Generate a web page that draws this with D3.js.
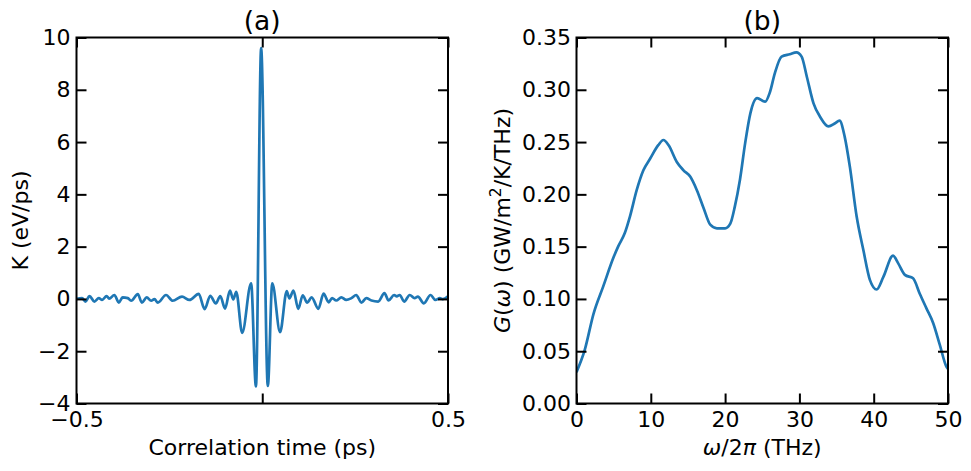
<!DOCTYPE html>
<html>
<head>
<meta charset="utf-8">
<script src="https://cdn.jsdelivr.net/npm/d3@7"></script>
<style>
  html, body { margin: 0; padding: 0; background: #fff; }
  svg { display: block; }
  text { font-family: "DejaVu Sans", sans-serif; fill: #000; }
</style>
</head>
<body>
<svg id="chart" width="971" height="471"></svg>
<script>
// ---------- Panel (a): heat-current autocorrelation K(t) ----------
const kTime = [
  -0.500, -0.485, -0.476, -0.465, -0.452, -0.440, -0.431, -0.419, -0.412, -0.398,
  -0.386, -0.376, -0.362, -0.353, -0.335, -0.324, -0.311, -0.299, -0.290, -0.281,
  -0.259, -0.241, -0.216, -0.196, -0.171, -0.155, -0.140, -0.125, -0.113, -0.100,
  -0.087, -0.078, -0.070, -0.054, -0.030, -0.017, -0.003, 0.015, 0.027, 0.048,
  0.066, 0.073, 0.084, 0.097, 0.109, 0.121, 0.133, 0.151, 0.165, 0.179,
  0.188, 0.199, 0.213, 0.226, 0.240, 0.253, 0.267, 0.280, 0.294, 0.312,
  0.329, 0.340, 0.355, 0.362, 0.370, 0.382, 0.397, 0.410, 0.419, 0.435,
  0.453, 0.466, 0.478, 0.486, 0.500
];
const kValue = [
  0.00, 0.03, -0.10, 0.11, -0.10, 0.03, -0.04, 0.11, 0.01, 0.15,
  -0.14, 0.06, 0.03, -0.07, 0.18, -0.14, 0.06, -0.07, -0.01, -0.14,
  0.15, -0.07, 0.09, -0.04, 0.19, -0.39, 0.12, -0.17, 0.11, -0.37,
  0.32, -0.02, 0.27, -1.30, 0.60, -3.35, 9.59, -3.33, 0.60, -1.27,
  0.30, 0.02, 0.32, -0.38, 0.14, -0.14, 0.06, -0.38, 0.20, -0.13,
  0.03, -0.06, 0.06, -0.04, 0.03, 0.15, -0.14, 0.03, -0.06, -0.10,
  0.22, -0.06, 0.15, 0.10, 0.15, -0.10, 0.15, 0.03, 0.09, -0.17,
  0.15, -0.04, 0.03, -0.01, 0.10
];
const kXTicks = [-0.5, 0, 0.5];
const kXTickLabels = ["\u22120.5", "", "0.5"];
const kYTicks = [-4, -2, 0, 2, 4, 6, 8, 10];

// ---------- Panel (b): spectral conductance G(omega) ----------
const gFreq = [
  0.0, 1.1, 2.3, 3.6, 5.0, 5.6, 6.5, 7.2, 8.1, 9.0,
  9.9, 11.0, 11.7, 12.4, 13.5, 14.4, 15.3, 16.2, 17.1, 18.0,
  18.9, 20.0, 20.7, 21.3, 22.0, 22.7, 23.4, 24.3, 25.4, 26.0,
  26.7, 27.6, 28.7, 29.6, 30.3, 31.0, 31.9, 32.8, 33.9, 34.8,
  35.4, 36.1, 36.8, 37.7, 38.6, 39.5, 40.4, 41.3, 42.6, 43.3,
  44.2, 45.3, 46.2, 47.1, 48.0, 48.9, 49.8, 50.0
];
const gValue = [
  0.030, 0.051, 0.086, 0.112, 0.140, 0.150, 0.163, 0.179, 0.204, 0.223,
  0.234, 0.247, 0.252, 0.247, 0.231, 0.223, 0.217, 0.204, 0.187, 0.171,
  0.1675, 0.1675, 0.172, 0.188, 0.214, 0.249, 0.2775, 0.292, 0.2886, 0.297,
  0.316, 0.3317, 0.334, 0.3358, 0.3317, 0.3125, 0.287, 0.274, 0.265, 0.268,
  0.2705, 0.255, 0.226, 0.179, 0.147, 0.118, 0.109, 0.121, 0.1414, 0.134,
  0.123, 0.1197, 0.105, 0.091, 0.077, 0.056, 0.035, 0.033
];
const gXTicks = [0, 10, 20, 30, 40, 50];
const gYTicks = [0, 0.05, 0.10, 0.15, 0.20, 0.25, 0.30, 0.35];

// ---------- Drawing ----------
const svg = d3.select("#chart");
svg.append("rect").attr("width", 971).attr("height", 471).attr("fill", "#fff");

const FONT = 22;
const TITLE_FONT = 26.5;
const LINE_COLOR = "#1f77b4";

function panel(opts) {
  const { x0, x1, y0, y1 } = opts;
  const xs = d3.scaleLinear().domain(opts.xDomain).range([x0, x1]);
  const ys = d3.scaleLinear().domain(opts.yDomain).range([y1, y0]);
  const g = svg.append("g");

  const pts = opts.xs.map((v, i) => [v, opts.ys[i]]);
  const clipId = "clip" + opts.id;
  svg.append("clipPath").attr("id", clipId)
    .append("rect").attr("x", x0).attr("y", y0 - 2).attr("width", x1 - x0).attr("height", y1 - y0 + 4);
  g.append("path")
    .datum(pts)
    .attr("clip-path", `url(#${clipId})`)
    .attr("fill", "none")
    .attr("stroke", LINE_COLOR)
    .attr("stroke-width", 2.7)
    .attr("stroke-linejoin", "round")
    .attr("d", d3.line().x(d => xs(d[0])).y(d => ys(d[1])).curve(d3.curveMonotoneX));

  const styleAxis = (sel) => {
    sel.select(".domain").remove();
    sel.selectAll(".tick line").attr("stroke", "#000").attr("stroke-width", 2);
    sel.selectAll(".tick text").attr("font-size", FONT).attr("font-family", "DejaVu Sans").attr("fill", "#000");
  };

  g.append("g").attr("transform", `translate(0,${y1})`)
    .call(d3.axisBottom(xs).tickValues(opts.xTicks).tickSizeInner(-10).tickSizeOuter(0)
      .tickPadding(7.5).tickFormat((d, i) => opts.xFmt(d, i)))
    .call(styleAxis);
  g.append("g").attr("transform", `translate(0,${y0})`)
    .call(d3.axisTop(xs).tickValues(opts.xTicks).tickSizeInner(-10).tickSizeOuter(0).tickFormat(""))
    .call(styleAxis);
  g.append("g").attr("transform", `translate(${x0},0)`)
    .call(d3.axisLeft(ys).tickValues(opts.yTicks).tickSizeInner(-10).tickSizeOuter(0)
      .tickPadding(opts.yPad).tickFormat(opts.yFmt))
    .call(styleAxis);
  g.append("g").attr("transform", `translate(${x1},0)`)
    .call(d3.axisRight(ys).tickValues(opts.yTicks).tickSizeInner(-10).tickSizeOuter(0).tickFormat(""))
    .call(styleAxis);

  g.append("rect").attr("x", x0).attr("y", y0).attr("width", x1 - x0).attr("height", y1 - y0)
    .attr("fill", "none").attr("stroke", "#000").attr("stroke-width", 2);

  g.append("text").attr("x", (x0 + x1) / 2).attr("y", 30)
    .attr("text-anchor", "middle").attr("font-size", TITLE_FONT).text(opts.title);

  return { g, xs, ys };
}

const A = panel({
  id: "a", x0: 76.5, x1: 448, y0: 37.5, y1: 403.5,
  xDomain: [-0.5, 0.5], yDomain: [-4, 10],
  xs: kTime, ys: kValue,
  xTicks: kXTicks, yTicks: kYTicks,
  xFmt: (d, i) => kXTickLabels[i],
  yFmt: d => (d < 0 ? "\u2212" + Math.abs(d) : String(d)),
  yPad: 6,
  title: "(a)"
});

A.g.append("text").attr("x", 262.25).attr("y", 455)
  .attr("text-anchor", "middle").attr("font-size", FONT).text("Correlation time (ps)");
A.g.append("text").attr("transform", "translate(28,220.5) rotate(-90)")
  .attr("text-anchor", "middle").attr("font-size", FONT).text("K (eV/ps)");

const B = panel({
  id: "b", x0: 576.5, x1: 948, y0: 37.5, y1: 403.5,
  xDomain: [0, 50], yDomain: [0, 0.35],
  xs: gFreq, ys: gValue,
  xTicks: gXTicks, yTicks: gYTicks,
  xFmt: d => String(d),
  yFmt: d => d.toFixed(2),
  yPad: 5.5,
  title: "(b)"
});

const xl = B.g.append("text").attr("x", 762.25).attr("y", 455)
  .attr("text-anchor", "middle").attr("font-size", FONT);
xl.append("tspan").attr("font-style", "italic").text("\u03c9");
xl.append("tspan").text("/2");
xl.append("tspan").attr("font-style", "italic").text("\u03c0");
xl.append("tspan").text(" (THz)");

const yl = B.g.append("text").attr("transform", "translate(510,220.5) rotate(-90)")
  .attr("text-anchor", "middle").attr("font-size", FONT);
yl.append("tspan").attr("font-style", "italic").text("G");
yl.append("tspan").text("(");
yl.append("tspan").attr("font-style", "italic").text("\u03c9");
yl.append("tspan").text(")  (GW/m");
yl.append("tspan").attr("font-size", FONT * 0.7).attr("dy", -9).text("2");
yl.append("tspan").attr("dy", 9).text("/K/THz)");
</script>
</body>
</html>
